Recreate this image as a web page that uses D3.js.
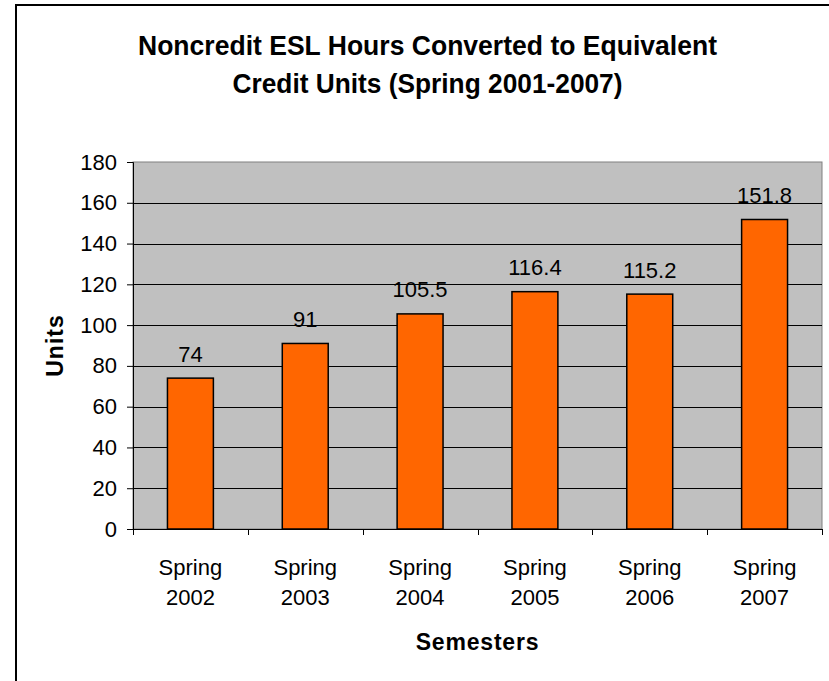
<!DOCTYPE html>
<html>
<head>
<meta charset="utf-8">
<script src="https://cdn.jsdelivr.net/npm/d3@7"></script>
<style>
  body { margin: 0; background: #fff; }
  text { font-family: "Liberation Sans", Arial, sans-serif; fill: #000; }
</style>
</head>
<body>
<div id="chart"></div>
<script>
// chart data
var semesters = ["Spring 2002", "Spring 2003", "Spring 2004", "Spring 2005", "Spring 2006", "Spring 2007"];
var units = [74, 91, 105.5, 116.4, 115.2, 151.8];
var yTicks = [0, 20, 40, 60, 80, 100, 120, 140, 160, 180];
var titleLines = ["Noncredit ESL Hours Converted to Equivalent", "Credit Units (Spring 2001-2007)"];

var W = 829, H = 681;
var plot = {left: 133, right: 822, top: 162, bottom: 529};

var svg = d3.select("#chart").append("svg")
    .attr("width", W)
    .attr("height", H);

// outer frame (only top and left edges fall inside the picture)
svg.append("path")
    .attr("d", "M16,690V5H835")
    .attr("fill", "none")
    .attr("stroke", "#000")
    .attr("stroke-width", 2);

// scales
var x = d3.scaleBand()
    .domain(semesters)
    .range([plot.left, plot.right])
    .padding(0);
var y = d3.scaleLinear()
    .domain([0, 180])
    .range([plot.bottom, plot.top]);

// plot background
svg.append("rect")
    .attr("x", plot.left)
    .attr("y", plot.top)
    .attr("width", plot.right - plot.left)
    .attr("height", plot.bottom - plot.top)
    .attr("fill", "#c0c0c0")
    .attr("stroke", "#808080")
    .attr("stroke-width", 1);

// gridlines
svg.append("g")
    .selectAll("line")
    .data(yTicks.filter(function(d) { return d > 0 && d < 180; }))
    .enter()
    .append("line")
    .attr("x1", plot.left)
    .attr("x2", plot.right)
    .attr("y1", function(d) { return Math.round(y(d)) + 0.5; })
    .attr("y2", function(d) { return Math.round(y(d)) + 0.5; })
    .attr("stroke", "#000")
    .attr("stroke-width", 1);

// y axis
var yAxis = svg.append("g")
    .attr("transform", "translate(" + plot.left + ",0)")
    .call(d3.axisLeft(y).tickValues(yTicks).tickSize(6).tickPadding(10));
yAxis.selectAll("text")
    .style("font-size", "22px")
    .style("font-family", "Liberation Sans, Arial, sans-serif");
yAxis.selectAll("line, path").attr("stroke", "#000");

// x axis line and boundary ticks
var bounds = semesters.map(function(s) { return x(s); }).concat([plot.right]);
svg.append("line")
    .attr("x1", plot.left).attr("x2", plot.right)
    .attr("y1", plot.bottom + 0.5).attr("y2", plot.bottom + 0.5)
    .attr("stroke", "#000");
svg.append("g")
    .selectAll("line")
    .data(bounds)
    .enter()
    .append("line")
    .attr("x1", function(d) { return Math.round(d) + 0.5; })
    .attr("x2", function(d) { return Math.round(d) + 0.5; })
    .attr("y1", plot.bottom)
    .attr("y2", plot.bottom + 6)
    .attr("stroke", "#000");

// category labels, two lines each
var catLabels = svg.append("g")
    .selectAll("text")
    .data(semesters)
    .enter()
    .append("text")
    .attr("text-anchor", "middle")
    .style("font-size", "22px");
catLabels.append("tspan")
    .attr("x", function(d) { return x(d) + x.bandwidth() / 2; })
    .attr("y", 575)
    .text(function(d) { return d.split(" ")[0]; });
catLabels.append("tspan")
    .attr("x", function(d) { return x(d) + x.bandwidth() / 2; })
    .attr("y", 605)
    .text(function(d) { return d.split(" ")[1]; });

// bars (gap width 150%)
var barW = x.bandwidth() / 2.5;
svg.append("g")
    .selectAll("rect")
    .data(units)
    .enter()
    .append("rect")
    .attr("x", function(d, i) { return x(semesters[i]) + (x.bandwidth() - barW) / 2; })
    .attr("y", function(d) { return y(d); })
    .attr("width", barW)
    .attr("height", function(d) { return y(0) - y(d); })
    .attr("fill", "#ff6600")
    .attr("stroke", "#000")
    .attr("stroke-width", 1.5);

// value labels
svg.append("g")
    .selectAll("text")
    .data(units)
    .enter()
    .append("text")
    .attr("x", function(d, i) { return x(semesters[i]) + x.bandwidth() / 2; })
    .attr("y", function(d) { return y(d) - 16.5; })
    .attr("text-anchor", "middle")
    .style("font-size", "22px")
    .text(function(d) { return d; });

// title
var titleW = [579, 390];
svg.append("g")
    .selectAll("text")
    .data(titleLines)
    .enter()
    .append("text")
    .attr("x", function(d, i) { return 427.5 - titleW[i] / 2; })
    .attr("y", function(d, i) { return 55 + i * 38; })
    .attr("textLength", function(d, i) { return titleW[i]; })
    .attr("lengthAdjust", "spacingAndGlyphs")
    .style("font-size", "27px")
    .style("font-weight", "bold")
    .text(function(d) { return d; });

// axis titles
svg.append("text")
    .attr("x", (plot.left + plot.right) / 2)
    .attr("y", 650)
    .attr("text-anchor", "middle")
    .style("font-size", "23px")
    .style("font-weight", "bold")
    .style("letter-spacing", "0.8px")
    .text("Semesters");

svg.append("text")
    .attr("transform", "translate(63," + ((plot.top + plot.bottom) / 2) + ") rotate(-90)")
    .attr("text-anchor", "middle")
    .style("font-size", "23px")
    .style("font-weight", "bold")
    .style("letter-spacing", "1px")
    .text("Units");
</script>
</body>
</html>
